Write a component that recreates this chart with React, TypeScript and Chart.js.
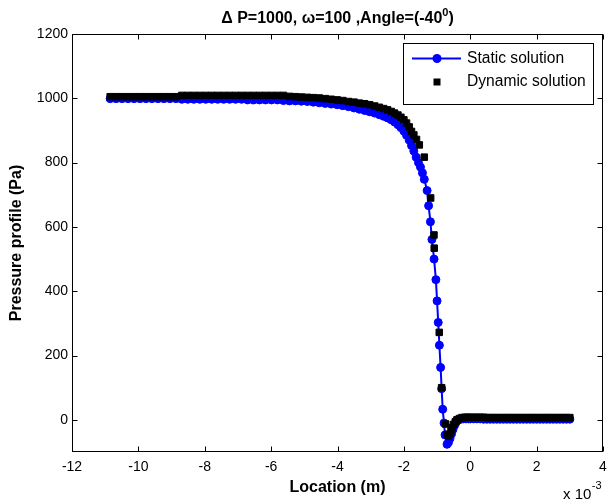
import React, { useEffect, useRef } from "react";
import { Chart, registerables } from "chart.js";

Chart.register(...registerables);

// x values are in units of 1e-3 m (axis shows "x 10^-3")
const staticX: number[] = [
  -10.85, -10.67, -10.49, -10.31, -10.13, -9.95, -9.77, -9.59, -9.41, -9.23, -9.05, -8.87,
  -8.69, -8.51, -8.33, -8.15, -7.97, -7.79, -7.61, -7.43, -7.25, -7.07, -6.89,
  -6.71, -6.53, -6.35, -6.17, -5.99, -5.81,
  -5.63, -5.45, -5.27, -5.09,
  -4.91, -4.73, -4.55, -4.37, -4.19, -4.01, -3.84, -3.67, -3.5, -3.34, -3.18, -3.03,
  -2.88, -2.74, -2.61, -2.49, -2.38, -2.28, -2.18, -2.09, -2.0, -1.92, -1.84, -1.77,
  -1.7, -1.63, -1.56, -1.5, -1.44,
  -1.385, -1.3, -1.255, -1.2, -1.155, -1.09, -1.035, -1.0, -0.965, -0.93, -0.893, -0.862,
  -0.83, -0.79, -0.76, -0.7, -0.655, -0.61, -0.565, -0.52, -0.47, -0.42, -0.36, -0.29,
  -0.21, -0.13, -0.05,
  0.0, 0.1, 0.2, 0.3, 0.4, 0.5, 0.6, 0.7, 0.8, 0.9, 1.0, 1.1, 1.2, 1.3, 1.4, 1.5,
  1.6, 1.7, 1.8, 1.9, 2.0, 2.1, 2.2, 2.3, 2.4, 2.5, 2.6, 2.7, 2.8, 2.9, 3.0,
];
const staticY: number[] = [
  999, 999, 999, 999, 999, 999, 999, 999, 999, 999, 999, 999,
  997, 997, 997, 997, 997, 997, 997, 997, 997, 997, 997,
  995, 995, 995, 995, 995, 995,
  993, 992, 992, 991,
  990, 988, 986, 984, 982, 980, 977, 974, 970, 966, 962, 958,
  954, 949, 944, 939, 933, 926, 918, 909, 898, 885, 870, 853,
  836, 817, 800, 786, 768,
  748, 713, 666, 616, 561, 500, 436, 370, 303, 232, 163, 97,
  33, -10, -47, -76, -70, -58, -44, -30, -17, -7, -1, 2,
  3, 3, 3,
  3, 3, 3, 3, 2, 2, 2, 2, 2, 2, 2, 2, 2, 2, 2, 2,
  2, 2, 2, 2, 2, 2, 2, 2, 2, 2, 2, 2, 2, 2, 2,
];

const dynamicX: number[] = [
  -10.85, -10.67, -10.49, -10.31, -10.13, -9.95, -9.77, -9.59, -9.41, -9.23, -9.05, -8.87,
  -8.69, -8.51, -8.33, -8.15, -7.97, -7.79, -7.61, -7.43, -7.25, -7.07, -6.89,
  -6.71, -6.53, -6.35, -6.17, -5.99, -5.81, -5.63,
  -5.45, -5.27, -5.09,
  -4.91, -4.73, -4.55, -4.37, -4.19, -4.01, -3.84, -3.67, -3.5, -3.34, -3.18, -3.03,
  -2.88, -2.74, -2.61, -2.49, -2.38, -2.28, -2.18, -2.09, -2.0, -1.92, -1.84, -1.77,
  -1.7, -1.62, -1.535, -1.385, -1.193, -1.093, -1.085, -0.934, -0.862, -0.741,
  -0.7, -0.66, -0.62, -0.58, -0.54, -0.5, -0.45, -0.4, -0.33, -0.25, -0.16, -0.08,
  0.0, 0.1, 0.2, 0.3, 0.4, 0.5, 0.6, 0.7, 0.8, 0.9, 1.0, 1.1, 1.2, 1.3, 1.4, 1.5,
  1.6, 1.7, 1.8, 1.9, 2.0, 2.1, 2.2, 2.3, 2.4, 2.5, 2.6, 2.7, 2.8, 2.9, 3.0,
];
const dynamicY: number[] = [
  1005, 1005, 1005, 1005, 1005, 1005, 1005, 1005, 1005, 1005, 1005, 1005,
  1009, 1009, 1009, 1009, 1009, 1009, 1009, 1009, 1009, 1009, 1009,
  1009, 1009, 1009, 1009, 1009, 1009, 1009,
  1006, 1005, 1004,
  1003, 1002, 1001, 999, 997, 995, 993, 990, 988, 985, 983, 980,
  976, 972, 968, 964, 959, 954, 948, 941, 933, 923, 911, 897,
  886, 872, 855, 817, 690, 575, 534, 272, 100, -13,
  -45, -50, -45, -35, -24, -14, -6, 0, 4, 7, 8, 8,
  8, 8, 8, 8, 8, 7, 7, 7, 7, 7, 7, 7, 7, 7, 7, 7,
  7, 7, 7, 7, 7, 7, 7, 7, 7, 7, 7, 7, 7, 7, 7,
];

const xTickValues: number[] = [-12, -10, -8, -6, -4, -2, 0, 2, 4];
const yTickValues: number[] = [0, 200, 400, 600, 800, 1000, 1200];

const titleMain = "\u0394 P=1000, \u03c9=100 ,Angle=(-40";
const titleSup = "0";
const titleEnd = ")";
const xLabel = "Location (m)";
const yLabel = "Pressure profile (Pa)";
const legendLabels = ["Static solution", "Dynamic solution"];

const FONT = "'Liberation Sans', Arial, Helvetica, sans-serif";

const decorPlugin = {
  id: "decor",
  afterDraw(chart: any) {
    const ctx = chart.ctx as CanvasRenderingContext2D;
    const a = chart.chartArea;
    const xs = chart.scales.x;
    const ys = chart.scales.y;
    ctx.save();
    // box
    ctx.strokeStyle = "#000";
    ctx.lineWidth = 1;
    const L = Math.round(a.left) + 0.5;
    const R = Math.round(a.right) - 0.5;
    const T = Math.round(a.top) + 0.5;
    const B = Math.round(a.bottom) - 0.5;
    ctx.strokeRect(L, T, R - L, B - T);
    // ticks inside
    const tl = 5;
    ctx.beginPath();
    xTickValues.forEach((v) => {
      const px = Math.round(xs.getPixelForValue(v)) + 0.5;
      ctx.moveTo(px, B);
      ctx.lineTo(px, B - tl);
      ctx.moveTo(px, T);
      ctx.lineTo(px, T + tl);
    });
    yTickValues.forEach((v) => {
      const py = Math.round(ys.getPixelForValue(v)) + 0.5;
      ctx.moveTo(L, py);
      ctx.lineTo(L + tl, py);
      ctx.moveTo(R, py);
      ctx.lineTo(R - tl, py);
    });
    ctx.stroke();

    ctx.fillStyle = "#000";
    // title
    const cx = (a.left + a.right) / 2;
    const tBig = `bold 16px ${FONT}`;
    const tSmall = `bold 11px ${FONT}`;
    ctx.font = tBig;
    const w1 = ctx.measureText(titleMain).width;
    const w3 = ctx.measureText(titleEnd).width;
    ctx.font = tSmall;
    const w2 = ctx.measureText(titleSup).width;
    const total = w1 + w2 + w3;
    let tx = cx - total / 2;
    ctx.textBaseline = "alphabetic";
    ctx.textAlign = "left";
    ctx.font = tBig;
    ctx.fillText(titleMain, tx, 23);
    tx += w1;
    ctx.font = tSmall;
    ctx.fillText(titleSup, tx, 16);
    tx += w2;
    ctx.font = tBig;
    ctx.fillText(titleEnd, tx, 23);

    // x label
    ctx.font = `bold 16px ${FONT}`;
    ctx.textAlign = "center";
    ctx.textBaseline = "middle";
    ctx.fillText(xLabel, cx, 488);

    // y label
    ctx.save();
    ctx.translate(17, (a.top + a.bottom) / 2);
    ctx.rotate(-Math.PI / 2);
    ctx.fillText(yLabel, 0, 0);
    ctx.restore();

    // exponent
    ctx.textAlign = "left";
    ctx.font = `15px ${FONT}`;
    ctx.fillText("x 10", 563, 495);
    const wx = ctx.measureText("x 10").width;
    ctx.font = `11px ${FONT}`;
    ctx.fillText("-3", 563 + wx + 0.5, 486);

    // legend
    const lx = 403.5, ly = 43.5, lw = 190, lh = 61;
    ctx.fillStyle = "#fff";
    ctx.fillRect(lx, ly, lw, lh);
    ctx.strokeStyle = "#000";
    ctx.lineWidth = 1;
    ctx.strokeRect(lx, ly, lw, lh);
    ctx.strokeStyle = "#0000ff";
    ctx.lineWidth = 2;
    ctx.beginPath();
    ctx.moveTo(412, 58.5);
    ctx.lineTo(461, 58.5);
    ctx.stroke();
    ctx.fillStyle = "#0000ff";
    ctx.beginPath();
    ctx.arc(437, 58.5, 4.5, 0, Math.PI * 2);
    ctx.fill();
    ctx.fillStyle = "#000";
    ctx.fillRect(433.5, 78.5, 7, 7);
    ctx.font = `15.6px ${FONT}`;
    ctx.textBaseline = "middle";
    ctx.fillText(legendLabels[0], 467, 59);
    ctx.fillText(legendLabels[1], 467, 82);
    ctx.restore();
  },
};

export default function App() {
  const ref = useRef<HTMLCanvasElement | null>(null);
  useEffect(() => {
    if (!ref.current) return;
    const staticData = staticX.map((x, i) => ({ x, y: staticY[i] }));
    const dynamicData = dynamicX.map((x, i) => ({ x, y: dynamicY[i] }));
    const chart = new Chart(ref.current, {
      type: "scatter",
      data: {
        datasets: [
          {
            label: legendLabels[0],
            data: staticData,
            showLine: true,
            borderColor: "#0000ff",
            backgroundColor: "#0000ff",
            borderWidth: 2,
            pointRadius: 4,
            pointBorderWidth: 1,
            pointBorderColor: "#0000ff",
            pointBackgroundColor: "#0000ff",
            order: 1,
          },
          {
            label: legendLabels[1],
            data: dynamicData,
            showLine: false,
            pointStyle: "rect",
            pointRadius: 4.6,
            pointBorderWidth: 1,
            pointBorderColor: "#000",
            pointBackgroundColor: "#000",
            borderColor: "#000",
            backgroundColor: "#000",
            order: 0,
          },
        ],
      },
      options: {
        animation: false,
        responsive: false,
        devicePixelRatio: 1,
        layout: { autoPadding: false, padding: { top: 34, right: 6, left: 0, bottom: 0 } },
        plugins: { legend: { display: false }, tooltip: { enabled: false }, title: { display: false } },
        scales: {
          x: {
            type: "linear",
            min: -12,
            max: 4,
            grid: { display: false, drawTicks: false },
            border: { display: false },
            afterBuildTicks: (s: any) => {
              s.ticks = xTickValues.map((v) => ({ value: v }));
            },
            afterFit: (s: any) => {
              s.height = 51;
              s.paddingLeft = 0;
              s.paddingRight = 0;
            },
            ticks: {
              color: "#000",
              padding: 7,
              font: { family: FONT, size: 14 },
              maxRotation: 0,
              autoSkip: false,
              callback: (v: any) => String(v),
            },
          },
          y: {
            type: "linear",
            min: -100,
            max: 1200,
            grid: { display: false, drawTicks: false },
            border: { display: false },
            afterBuildTicks: (s: any) => {
              s.ticks = yTickValues.map((v) => ({ value: v }));
            },
            afterFit: (s: any) => {
              s.width = 72;
              s.paddingTop = 0;
              s.paddingBottom = 0;
            },
            ticks: {
              color: "#000",
              padding: 4,
              font: { family: FONT, size: 14 },
              autoSkip: false,
              callback: (v: any) => String(v),
            },
          },
        },
      },
      plugins: [decorPlugin],
    });
    return () => chart.destroy();
  }, []);
  return (
    <div style={{ position: "fixed", left: 0, top: 0, width: 609, height: 503, background: "#fff" }}>
      <canvas ref={ref} width={609} height={503} style={{ display: "block" }} />
    </div>
  );
}
